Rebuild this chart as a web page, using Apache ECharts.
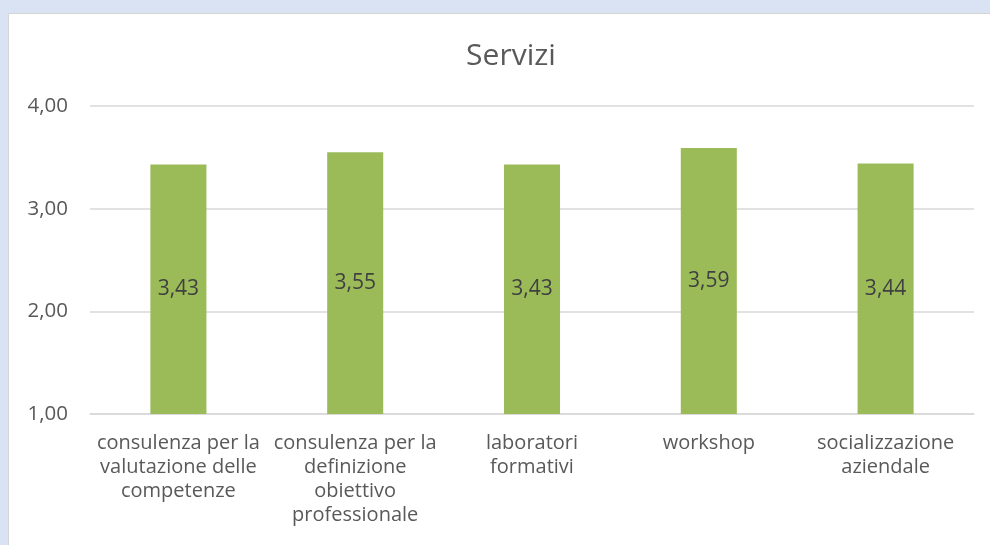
<!DOCTYPE html>
<html>
<head>
<meta charset="utf-8">
<script src="https://cdn.jsdelivr.net/npm/echarts@6/dist/echarts.min.js"></script>
<style>
html,body{margin:0;padding:0;background:#dae3f3;}
#chart{width:990px;height:545px;}
</style>
</head>
<body>
<div id="chart"></div>
<script>
var categories = [
  "consulenza per la\nvalutazione delle\ncompetenze",
  "consulenza per la\ndefinizione\nobiettivo\nprofessionale",
  "laboratori\nformativi",
  "workshop",
  "socializzazione\naziendale"
];
var values = [3.43, 3.55, 3.43, 3.59, 3.44];
var titleText = "Servizi";

function fmt(v){ return Number(v).toFixed(2).replace('.', ','); }

var FONT = 'Open Sans';
var chart = echarts.init(document.getElementById('chart'));
chart.setOption({
  backgroundColor: '#dae3f3',
  animation: false,
  textStyle: { fontFamily: FONT },
  graphic: [{
    type: 'rect', z: -10, silent: true,
    shape: { x: 8.5, y: 13.5, width: 1000, height: 540 },
    style: { fill: '#ffffff', stroke: '#d4d4d4', lineWidth: 1 }
  }],
  title: {
    text: titleText,
    left: 506, top: 36, textAlign: 'center',
    textStyle: { fontFamily: FONT, fontSize: 30, fontWeight: 'normal', color: '#595959' }
  },
  grid: { left: 90, right: 16, top: 106, bottom: 131, containLabel: false },
  xAxis: {
    type: 'category',
    data: categories,
    axisLine: { show: true, lineStyle: { color: '#d9d9d9', width: 1.5 } },
    axisTick: { show: false },
    axisLabel: {
      interval: 0, margin: 17, color: '#595959', fontSize: 20, lineHeight: 24,
      fontFamily: FONT, align: 'center'
    }
  },
  yAxis: {
    type: 'value', min: 1, max: 4, interval: 1,
    axisLine: { show: false }, axisTick: { show: false },
    axisLabel: { formatter: fmt, color: '#595959', fontSize: 20.5, margin: 22, fontFamily: FONT },
    splitLine: { lineStyle: { color: '#d9d9d9', width: 1.5 } }
  },
  series: [{
    type: 'bar',
    data: values,
    barWidth: '31.7%',
    itemStyle: { color: '#9bbb59' },
    label: {
      show: true, position: 'inside', formatter: function(p){ return fmt(p.value); },
      color: '#404040', fontSize: 21, fontFamily: FONT
    }
  }]
});
</script>
</body>
</html>
